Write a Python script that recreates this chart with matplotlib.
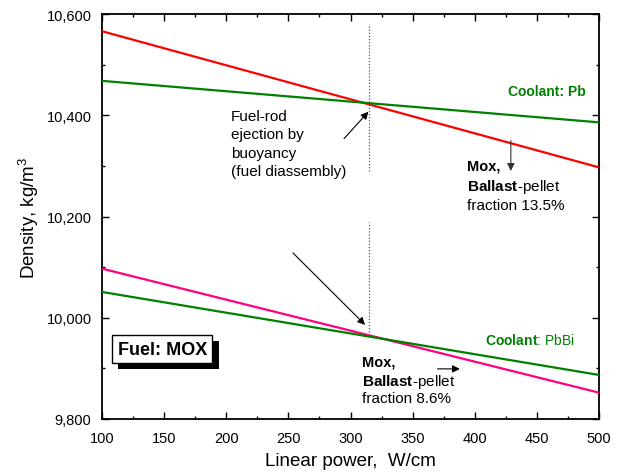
import matplotlib
matplotlib.use("Agg")
import matplotlib.pyplot as plt
from matplotlib.ticker import MultipleLocator, FuncFormatter
import matplotlib.patheffects as pe

plt.rcParams['font.family'] = ['Liberation Sans', 'DejaVu Sans']
plt.rcParams['mathtext.fontset'] = 'custom'
plt.rcParams['mathtext.rm'] = 'Liberation Sans'
plt.rcParams['mathtext.bf'] = 'Liberation Sans:bold'
plt.rcParams['mathtext.it'] = 'Liberation Sans:italic'

# Data
power = [100, 500]
mox_pb_135 = [10566, 10297]      # red
coolant_pb = [10468, 10386]      # green (upper)
mox_pbbi_86 = [10097, 9852]      # pink
coolant_pbbi = [10051, 9887]     # green (lower)
ejection_power = 315

xticks = [100, 150, 200, 250, 300, 350, 400, 450, 500]
yticks = [9800, 10000, 10200, 10400, 10600]

fig = plt.figure(figsize=(6.3, 4.77), dpi=100)
ax = fig.add_axes([0.1619, 0.1195, 0.789, 0.849])

green = '#008000'
ax.plot(power, mox_pb_135, color='#ff0000', lw=1.6, zorder=3)
ax.plot(power, coolant_pb, color=green, lw=1.6, zorder=3)
ax.plot(power, mox_pbbi_86, color='#ff0080', lw=1.6, zorder=3)
ax.plot(power, coolant_pbbi, color=green, lw=1.6, zorder=3)

# dotted vertical markers
ax.plot([ejection_power, ejection_power], [10290, 10580], color='#555555', lw=0.9, ls=(0, (1, 1.5)), zorder=2)
ax.plot([ejection_power, ejection_power], [9972, 10190], color='#555555', lw=0.9, ls=(0, (1, 1.5)), zorder=2)

ax.set_xlim(100, 500)
ax.set_ylim(9800, 10600)
ax.set_xticks(xticks)
ax.set_yticks(yticks)
ax.xaxis.set_minor_locator(MultipleLocator(25))
ax.yaxis.set_minor_locator(MultipleLocator(100))
ax.yaxis.set_major_formatter(FuncFormatter(lambda v, p: f"{int(v):,}"))
ax.tick_params(which='both', direction='in', top=True, right=True, width=1.0, labelsize=10.5)
ax.tick_params(which='major', length=5)
ax.tick_params(which='minor', length=2.5)
ax.tick_params(axis='y', which='major', pad=7.5)
ax.tick_params(axis='x', which='major', pad=8.5)
for s in ax.spines.values():
    s.set_linewidth(1.3)

ax.set_xlabel("Linear power,  W/cm", fontsize=13.5, labelpad=5)
ax.set_ylabel("Density, kg/m$^3$", fontsize=13.5, labelpad=4)

ap = dict(arrowstyle='-|>', color='k', lw=0.8, mutation_scale=11, shrinkA=0, shrinkB=0)
ax.annotate('', xy=(314.4, 10407), xytext=(294.8, 10354), arrowprops=ap)
ax.annotate('', xy=(311.7, 9986), xytext=(253.7, 10128), arrowprops=ap)
ax.annotate('', xy=(429, 10290), xytext=(429, 10350), arrowprops=dict(ap, color='#333333'))
ax.annotate('', xy=(388, 9899), xytext=(370, 9899), arrowprops=ap)

ax.text(203.6, 10412, "Fuel-rod\nejection by\nbuoyancy\n(fuel diassembly)", fontsize=11,
        va='top', ha='left', linespacing=1.38)

ax.text(427, 10448, "Coolant: Pb", color=green, fontsize=10, fontweight='bold', va='center', ha='left')
ax.text(408, 9958, r"$\bf{Coolant}$: PbBi", color=green, fontsize=10, va='center', ha='left')

ax.text(393.7, 10300, "Mox,", fontsize=10.5, fontweight='bold', va='center', ha='left')
ax.text(393.7, 10261, r"$\bf{Ballast}$-pellet", fontsize=11, va='center', ha='left')
ax.text(393.7, 10222, "fraction 13.5%", fontsize=11, va='center', ha='left')

ax.text(309, 9913, "Mox,", fontsize=10.5, fontweight='bold', va='center', ha='left')
ax.text(309, 9876, r"$\bf{Ballast}$-pellet", fontsize=11, va='center', ha='left')
ax.text(309, 9842, "fraction 8.6%", fontsize=11, va='center', ha='left')

t = ax.text(148.5, 9938, "Fuel: MOX", fontsize=13, fontweight='bold', va='center', ha='center',
            bbox=dict(boxstyle='square,pad=0.3', fc='white', ec='black', lw=1.0), zorder=5)
t.get_bbox_patch().set_path_effects([pe.withSimplePatchShadow(offset=(4.5, -4.5), shadow_rgbFace='k', alpha=1.0)])

fig.savefig("out.png", dpi=100)
